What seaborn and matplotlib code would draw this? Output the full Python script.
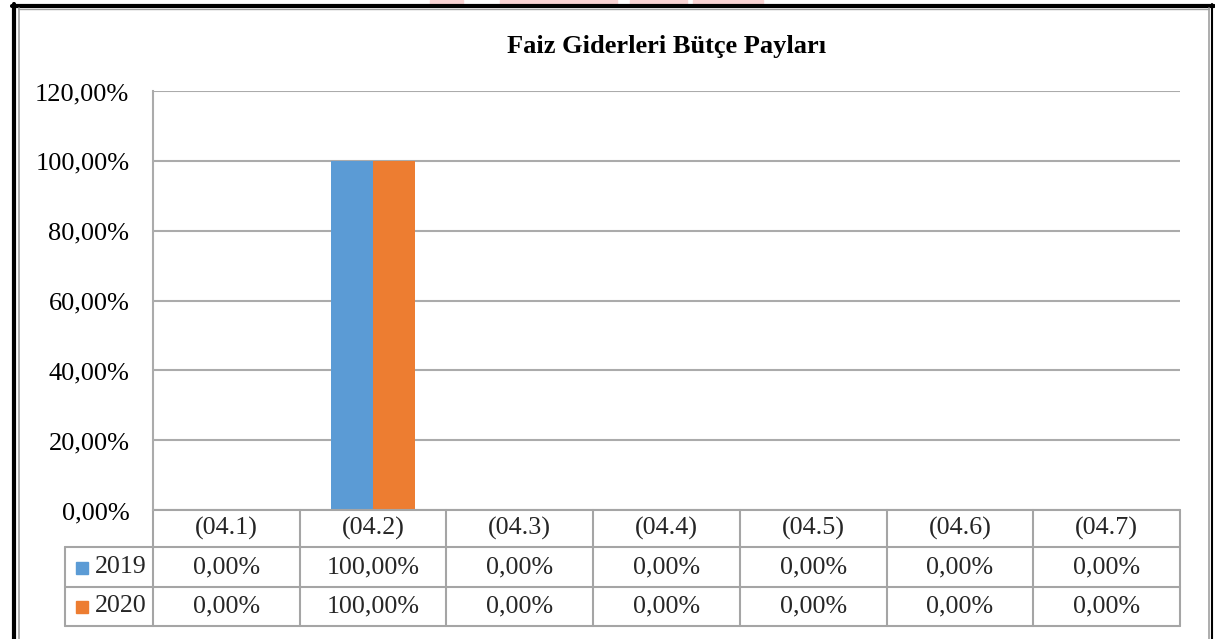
import matplotlib
matplotlib.use("Agg")
import matplotlib.pyplot as plt
import matplotlib.transforms as mtransforms
from matplotlib.lines import Line2D
from matplotlib.patches import Rectangle
import seaborn as sns
import pandas as pd

categories = ["(04.1)", "(04.2)", "(04.3)", "(04.4)", "(04.5)", "(04.6)", "(04.7)"]
series_names = ["2019", "2020"]
values_2019 = [0.0, 100.0, 0.0, 0.0, 0.0, 0.0, 0.0]
values_2020 = [0.0, 100.0, 0.0, 0.0, 0.0, 0.0, 0.0]
yticks = [0, 20, 40, 60, 80, 100, 120]
title = "Faiz Giderleri Bütçe Payları"
colors = ["#5B9BD5", "#ED7D31"]

df = pd.DataFrame({
    "cat": categories * 2,
    "year": [series_names[0]] * len(categories) + [series_names[1]] * len(categories),
    "val": values_2019 + values_2020,
})

sns.set_theme(style="white")
plt.rcParams["font.family"] = ["Liberation Serif", "DejaVu Serif"]

W, H = 1215, 639
fig = plt.figure(figsize=(W / 100, H / 100), dpi=100)
L, R, T, B = 153, 1180, 91, 510
ax = fig.add_axes([L / W, 1 - B / H, (R - L) / W, (B - T) / H])

sns.barplot(data=df, x="cat", y="val", hue="year", palette=colors, width=0.57,
            gap=0, ax=ax, saturation=1, legend=False, edgecolor="none")

ax.set_ylim(0, 120)
ax.set_xlim(-0.5, len(categories) - 0.5)
ax.set_yticks(yticks)
ax.yaxis.set_major_formatter(plt.FuncFormatter(lambda v, p: f"{v:.2f}".replace(".", ",") + "%"))
ax.tick_params(axis="y", labelsize=19, length=0, pad=17, colors="black")
shift = mtransforms.ScaledTranslation(0, -3 / 100, fig.dpi_scale_trans)
for lab in ax.get_yticklabels():
    lab.set_verticalalignment("center")
    lab.set_transform(lab.get_transform() + shift)
ax.set_xticks([])
ax.set_xlabel("")
ax.set_ylabel("")
ax.grid(axis="y", color="#ababab", linewidth=1.5)
ax.set_axisbelow(True)
for s in ["top", "right", "bottom"]:
    ax.spines[s].set_visible(False)
ax.spines["left"].set_color("#ababab")
ax.spines["left"].set_linewidth(1.5)

ax.set_title(title, fontsize=19, fontweight="bold", pad=27, color="black")

# data table below axes
trans = mtransforms.blended_transform_factory(ax.transData, ax.transAxes)
ah = B - T
r0 = 0.0
r1 = -(547 - B) / ah
r2 = -(587 - B) / ah
r3 = -(626 - B) / ah
n = len(categories)
unit = (R - L) / n
left_x = -0.5 - (153 - 65) / unit
lc = "#a5a5a5"
lw = 1.5

def hline(y, x0, x1):
    ax.add_line(Line2D([x0, x1], [y, y], transform=trans, color=lc, lw=lw, clip_on=False))

def vline(x, y0, y1):
    ax.add_line(Line2D([x, x], [y0, y1], transform=trans, color=lc, lw=lw, clip_on=False))

hline(r0, -0.5, n - 0.5)
for y in (r1, r2, r3):
    hline(y, left_x, n - 0.5)
vline(left_x, r1, r3)
for i in range(n + 1):
    vline(i - 0.5, r0, r3)

fs = 18.7
fmt = lambda v: f"{v:.2f}".replace(".", ",") + "%"
for i, c in enumerate(categories):
    ax.text(i, (r0 + r1) / 2, c, transform=trans, ha="center", va="center", fontsize=fs)
    ax.text(i, (r1 + r2) / 2, fmt(values_2019[i]), transform=trans, ha="center", va="center", fontsize=fs)
    ax.text(i, (r2 + r3) / 2, fmt(values_2020[i]), transform=trans, ha="center", va="center", fontsize=fs)

for (ya, yb), name, col in [((r1, r2), series_names[0], colors[0]), ((r2, r3), series_names[1], colors[1])]:
    ym = (ya + yb) / 2
    sq = 12 / ah
    ax.add_patch(Rectangle((left_x + 11 / unit, ym - sq / 2 - 0.002), 12 / unit, sq,
                           transform=trans, color=col, clip_on=False))
    ax.text(-0.5 - 6 / unit, ym, name, transform=trans, ha="right", va="center", fontsize=fs)

# figure frame
def fline(x0, y0, x1, y1, color, w):
    fig.add_artist(Line2D([x0 / W, x1 / W], [1 - y0 / H, 1 - y1 / H], color=color, lw=w,
                          transform=fig.transFigure))

# faint watermark remnants at the very top
for x0, x1 in [(430, 463), (500, 617), (630, 687), (693, 763)]:
    fig.add_artist(Rectangle((x0 / W, 1 - 4 / H), (x1 - x0) / W, 4 / H, color="#f9d3d3",
                             transform=fig.transFigure))

fline(12, 5.5, 1214, 5.5, "black", 3)
fline(14, 4, 14, 639, "black", 3)
fline(1212, 4, 1212, 639, "black", 1.5)
fline(18, 8.5, 1209, 8.5, "#a0a0a0", 1)
fline(18.5, 8, 18.5, 639, "#a0a0a0", 1.2)
fline(1208.5, 8, 1208.5, 639, "#a0a0a0", 1.2)

fig.savefig("out.png", dpi=100, facecolor="white")
